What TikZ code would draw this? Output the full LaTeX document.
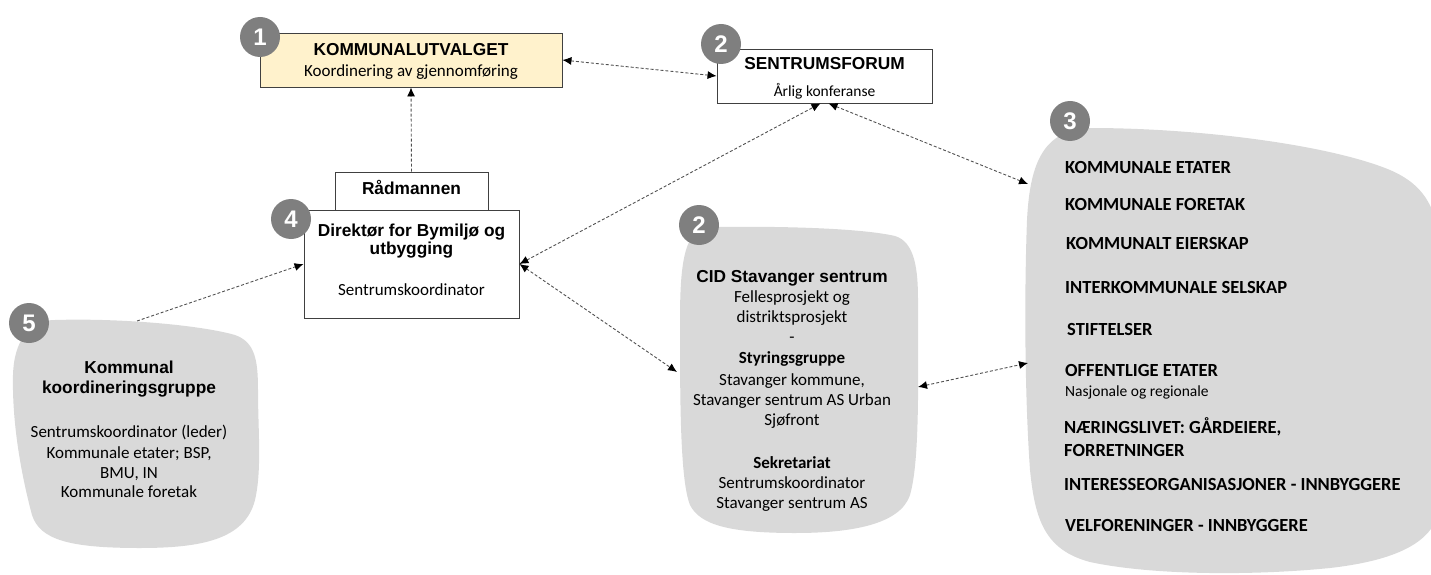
\documentclass[tikz,border=0pt]{standalone}
\usepackage{fontspec}
\setmainfont{Carlito}
\newfontfamily\arialf{Liberation Sans}
\usetikzlibrary{arrows.meta,calc}
\definecolor{blobgray}{HTML}{D9D9D9}
\definecolor{numgray}{HTML}{7F7F7F}
\definecolor{kuyellow}{HTML}{FFF2CC}
\definecolor{edgegray}{HTML}{404040}
\definecolor{linegray}{HTML}{505050}
\begin{document}
\begin{tikzpicture}[x=1pt,y=-1pt,
  box/.style={draw=edgegray,line width=0.9pt,fill=white,inner sep=0pt},
  blob/.style={fill=blobgray,draw=none},
  num/.style={circle,fill=numgray,minimum size=40pt,inner sep=0pt,text=white,font=\arialf\bfseries\fontsize{24}{24}\selectfont},
  hb/.style={anchor=base,font=\arialf\bfseries\fontsize{17.3}{20}\selectfont,inner sep=0pt},
  tx/.style={anchor=base,font=\fontsize{17}{20}\selectfont,inner sep=0pt},
  txs/.style={anchor=base,font=\fontsize{15.5}{18}\selectfont,inner sep=0pt},
  txb/.style={anchor=base,font=\bfseries\fontsize{17}{20}\selectfont,inner sep=0pt},
  capl/.style={anchor=base west,font=\bfseries\fontsize{18.5}{20}\selectfont,inner sep=0pt},
  smalll/.style={anchor=base west,font=\fontsize{15.5}{18}\selectfont,inner sep=0pt},
  link/.style={draw=linegray,line width=0.9pt,dash pattern=on 3pt off 2pt},
  arr/.style={-{Latex[length=9pt,width=8pt,color=black]}},
  darr/.style={{Latex[length=9pt,width=8pt,color=black]}-{Latex[length=9pt,width=8pt,color=black]}}
]
\useasboundingbox (0,0) rectangle (1431,575);
\clip (0,0) rectangle (1431,575);

% ---------- blobs ----------
\path[blob] (55,320) .. controls (120,318) and (200,325) .. (235,335)
  .. controls (255,342) and (258,360) .. (258,390)
  .. controls (258,430) and (262,470) .. (255,500)
  .. controls (245,540) and (200,548) .. (140,548)
  .. controls (70,548) and (40,540) .. (32,515)
  .. controls (20,470) and (12,420) .. (13,375)
  .. controls (14,340) and (30,320) .. (55,320) -- cycle;

\path[blob] (710,227) .. controls (780,226) and (860,228) .. (895,236)
  .. controls (915,242) and (918,270) .. (918,300)
  .. controls (918,380) and (920,460) .. (910,495)
  .. controls (900,525) and (850,533) .. (795,533)
  .. controls (730,533) and (700,525) .. (690,505)
  .. controls (680,480) and (680,400) .. (680,320)
  .. controls (680,260) and (685,228) .. (710,227) -- cycle;

\path[blob] (1090,128) .. controls (1200,128) and (1330,145) .. (1390,170)
  .. controls (1425,185) and (1440,210) .. (1440,260)
  -- (1440,500)
  .. controls (1440,540) and (1400,560) .. (1330,568)
  .. controls (1250,576) and (1150,575) .. (1090,562)
  .. controls (1045,550) and (1035,520) .. (1030,470)
  .. controls (1025,400) and (1024,300) .. (1027,220)
  .. controls (1030,160) and (1045,130) .. (1090,128) -- cycle;

% ---------- boxes ----------
\node[box,fill=kuyellow,minimum width=302pt,minimum height=54pt] (KU) at (411,60) {};
\node[box,minimum width=215pt,minimum height=54pt] (SF) at (824.5,76) {};
\node[box,minimum width=215pt,minimum height=108pt] (Dir) at (411.5,264) {};
\node[box,minimum width=153pt,minimum height=38pt] (Rad) at (411.5,191) {};

% ---------- number circles ----------
\node[num] (n1) at (260,37) {1};
\node[num] (n2a) at (721,44) {2};
\node[num] (n4) at (291,219) {4};
\node[num] (n5) at (29,323) {5};
\node[num] (n2b) at (699,225) {2};
\node[num] (n3) at (1070,121) {3};

% ---------- texts ----------
\node[hb] (kut1) at (411,56) {KOMMUNALUTVALGET};
\node[tx] (kut2) at (411,77) {Koordinering av gjennomføring};
\node[hb] (sft1) at (824.5,70) {SENTRUMSFORUM};
\node[txs] (sft2) at (824.5,97) {Årlig konferanse};
\node[hb] (radt) at (411.5,194) {Rådmannen};
\node[hb] (dirt1) at (411.5,236) {Direktør for Bymiljø og};
\node[hb] (dirt2) at (411.5,254) {utbygging};
\node[tx] (dirt3) at (411.5,295) {Sentrumskoordinator};

\node[hb] (k5a) at (129,373) {Kommunal};
\node[hb] (k5b) at (129,393) {koordineringsgruppe};
\node[tx] (k5c) at (129,437) {Sentrumskoordinator (leder)};
\node[tx] (k5d) at (129,458) {Kommunale etater; BSP,};
\node[tx] (k5e) at (129,478) {BMU, IN};
\node[tx] (k5f) at (129,497) {Kommunale foretak};

\node[hb] (c1) at (792,282) {CID Stavanger sentrum};
\node[tx] (c2) at (792,302) {Fellesprosjekt og};
\node[tx] (c3) at (792,322) {distriktsprosjekt};
\node[tx] (c4) at (792,342) {-};
\node[txb] (c5) at (792,363) {Styringsgruppe};
\node[tx] (c6) at (792,385) {Stavanger kommune,};
\node[tx] (c7) at (792,405) {Stavanger sentrum AS Urban};
\node[tx] (c8) at (792,425) {Sjøfront};
\node[txb] (c9) at (792,468) {Sekretariat};
\node[tx] (c10) at (792,488) {Sentrumskoordinator};
\node[tx] (c11) at (792,508) {Stavanger sentrum AS};

\node[capl] (e1) at (1065,173) {KOMMUNALE ETATER};
\node[capl] (e2) at (1065,210) {KOMMUNALE FORETAK};
\node[capl] (e3) at (1066,249) {KOMMUNALT EIERSKAP};
\node[capl] (e4) at (1065,293) {INTERKOMMUNALE SELSKAP};
\node[capl] (e5) at (1067,335) {STIFTELSER};
\node[capl] (e6) at (1065,376) {OFFENTLIGE ETATER};
\node[smalll] (e6b) at (1065,396) {Nasjonale og regionale};
\node[capl] (e7) at (1064,433) {NÆRINGSLIVET: GÅRDEIERE,};
\node[capl] (e7b) at (1064,456) {FORRETNINGER};
\node[capl] (e8) at (1064,490) {INTERESSEORGANISASJONER - INNBYGGERE};
\node[capl] (e9) at (1065,531) {VELFORENINGER - INNBYGGERE};

% ---------- connector end points on the blobs ----------
\coordinate (b3top) at (1028,184);
\coordinate (b3mid) at (1028,363);
\coordinate (cidL) at (677,372);
\coordinate (cidR) at (918,387);
\coordinate (b5) at (137,321);

% ---------- connectors ----------
\draw[link,darr] (KU.east) -- (SF.west);
\draw[link,arr] (Rad.north) -- (KU.south);
\draw[link,darr] (Dir.east) -- ([xshift=-4pt]SF.south);
\draw[link,darr] ([xshift=4pt]SF.south) -- (b3top);
\draw[link,darr] (Dir.east) -- (cidL);
\draw[link,darr] (cidR) -- (b3mid);
\draw[link,arr] (b5) -- (Dir.west);
\end{tikzpicture}
\end{document}
